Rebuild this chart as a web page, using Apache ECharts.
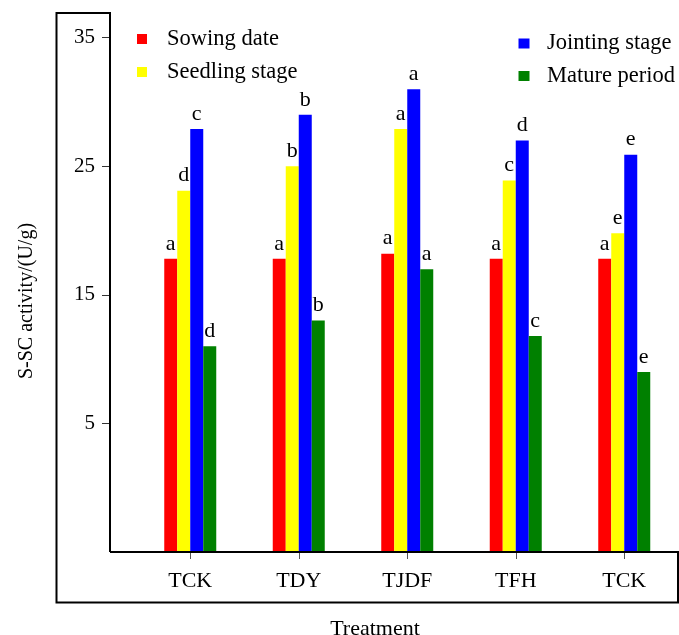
<!DOCTYPE html>
<html>
<head>
<meta charset="utf-8">
<script src="https://cdn.jsdelivr.net/npm/echarts@6/dist/echarts.min.js"></script>
<style>
html,body{margin:0;padding:0;background:#fff;}
#chart{width:679px;height:635px;}
</style>
</head>
<body>
<div id="chart"></div>
<script>
// ---- data ----
const categories = ['TCK', 'TDY', 'TJDF', 'TFH', 'TCK'];
const seriesNames = ['Sowing date', 'Seedling stage', 'Jointing stage', 'Mature period'];
const sowingDate    = [17.8, 17.8, 18.2, 17.8, 17.8];
const seedlingStage = [23.1, 25.0, 27.9, 23.9, 19.8];
const jointingStage = [27.9, 29.0, 31.0, 27.0, 25.9];
const maturePeriod  = [11.0, 13.0, 17.0, 11.8, 9.0];
const sowingLetters   = ['a', 'a', 'a', 'a', 'a'];
const seedlingLetters = ['d', 'b', 'a', 'c', 'e'];
const jointingLetters = ['c', 'b', 'a', 'd', 'e'];
const matureLetters   = ['d', 'b', 'a', 'c', 'e'];
const yTickLabels = [5, 15, 25, 35];
// the plotted axis in the reference starts at -5 (bars rise from the bottom of the frame)
const Y_FLOOR = -5;
const Y_TOP = 37;

const colors = ['#FF0000', '#FFFF00', '#0000FF', '#008000'];
const FONT = "'Liberation Serif', 'Times New Roman', serif";

const valueSets = [sowingDate, seedlingStage, jointingStage, maturePeriod];
const letterSets = [sowingLetters, seedlingLetters, jointingLetters, matureLetters];

const series = seriesNames.map((name, i) => ({
  name: name,
  type: 'bar',
  barWidth: 13,
  barGap: '0%',
  itemStyle: { color: colors[i] },
  label: {
    show: true,
    position: 'top',
    distance: 4,
    fontFamily: FONT,
    fontSize: 22,
    color: '#000',
    formatter: p => letterSets[i][p.dataIndex]
  },
  data: valueSets[i].map(v => v - Y_FLOOR)
}));

const chart = echarts.init(document.getElementById('chart'), null, { renderer: 'canvas' });
chart.setOption({
  animation: false,
  backgroundColor: '#fff',
  textStyle: { fontFamily: FONT },
  grid: { left: 136, right: 0.5, top: 12, bottom: 83, containLabel: false },
  legend: [
    {
      data: [seriesNames[0], seriesNames[1]],
      orient: 'vertical', left: 137, top: 27.5, padding: 0,
      icon: 'rect', itemWidth: 10, itemHeight: 10, itemGap: 10,
      textStyle: { fontFamily: FONT, fontSize: 22.5, color: '#000', lineHeight: 22, padding: [0, 0, 0, 15] }
    },
    {
      data: [seriesNames[2], seriesNames[3]],
      orient: 'vertical', left: 518.5, top: 32, padding: 0,
      icon: 'rect', itemWidth: 11, itemHeight: 10, itemGap: 9.5,
      textStyle: { fontFamily: FONT, fontSize: 22.5, color: '#000', lineHeight: 22, padding: [0, 0, 0, 12.5] }
    }
  ],
  xAxis: {
    type: 'category',
    data: categories,
    axisLine: { show: false },
    axisTick: { show: true, alignWithLabel: true, length: 7, lineStyle: { color: '#555', width: 1 } },
    axisLabel: { fontFamily: FONT, fontSize: 22, color: '#000', margin: 18 },
    splitLine: { show: false }
  },
  yAxis: {
    type: 'value',
    min: 0,
    max: Y_TOP - Y_FLOOR,
    interval: 10,
    offset: 26,
    axisLine: { show: false },
    axisTick: {
      show: true, length: 8, lineStyle: { color: '#333', width: 1 },
      customValues: yTickLabels.map(v => v - Y_FLOOR)
    },
    axisLabel: {
      fontFamily: FONT, fontSize: 21, color: '#000', margin: 15,
      customValues: yTickLabels.map(v => v - Y_FLOOR),
      formatter: v => (yTickLabels.indexOf(v + Y_FLOOR) >= 0 ? String(v + Y_FLOOR) : '')
    },
    splitLine: { show: false }
  },
  graphic: [
    {
      type: 'polyline',
      shape: { points: [[110, 552], [678, 552], [678, 602.5], [56.5, 602.5], [56.5, 13], [110, 13], [110, 552]] },
      style: { stroke: '#000', lineWidth: 2, fill: null },
      z: 10
    },
    {
      type: 'text',
      x: 375, y: 629,
      style: { text: 'Treatment', fontFamily: FONT, fontSize: 22, fill: '#000', align: 'center', verticalAlign: 'middle' }
    },
    {
      type: 'text',
      x: 27, y: 301,
      rotation: Math.PI / 2,
      style: { text: 'S-SC activity/(U/g)', fontFamily: FONT, fontSize: 20, fill: '#000', align: 'center', verticalAlign: 'middle' }
    }
  ],
  series: series
});
</script>
</body>
</html>
